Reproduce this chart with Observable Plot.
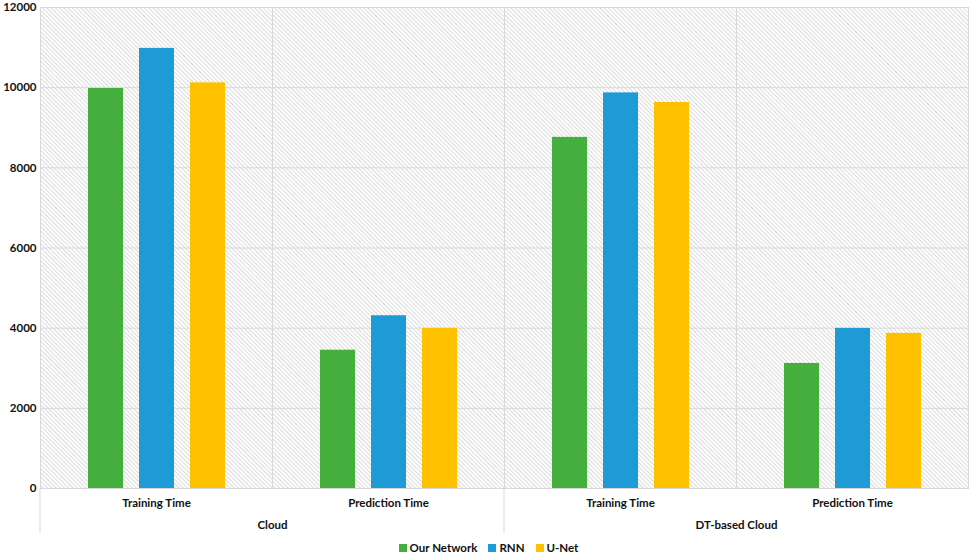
<!DOCTYPE html>
<html>
<head>
<meta charset="utf-8">
<script src="https://cdn.jsdelivr.net/npm/d3@7"></script>
<script src="https://cdn.jsdelivr.net/npm/@observablehq/plot@0.6"></script>
<style>
  html, body { margin: 0; padding: 0; background: #fff; }
  body { width: 969px; height: 554px; overflow: hidden; font-family: Lato, "Open Sans", sans-serif; }
  #legend { display: flex; justify-content: center; gap: 11px; font-size: 11.5px; font-weight: bold; color: #111; margin-left: 8px; margin-top: 4px; }
  #legend .item { display: flex; align-items: center; gap: 3px; }
  #legend .sw { width: 8px; height: 8px; display: inline-block; }
</style>
</head>
<body>
<div id="chart"></div>
<div id="legend"></div>
<script>
const groups = ["Cloud", "DT-based Cloud"];
const metrics = ["Training Time", "Prediction Time"];
const series = ["Our Network", "RNN", "U-Net"];
const colors = ["#45AF3E", "#1E9BD7", "#FFC000"];
// values per group/metric: [Our Network, RNN, U-Net]
const cloudTraining = [9980, 10980, 10120];
const cloudPrediction = [3450, 4310, 3995];
const dtTraining = [8760, 9870, 9630];
const dtPrediction = [3120, 3995, 3870];
const yTicks = [0, 2000, 4000, 6000, 8000, 10000, 12000];

const valueSets = [[cloudTraining, cloudPrediction], [dtTraining, dtPrediction]];
const data = [];
groups.forEach((g, gi) => metrics.forEach((m, mi) => series.forEach((s, si) => {
  data.push({cat: g + "|" + m, series: s, value: valueSets[gi][mi][si]});
})));
const cats = groups.flatMap(g => metrics.map(m => g + "|" + m));
const groupLabels = groups.map(g => ({cat: g + "|" + metrics[0], label: g}));

const plot = Plot.plot({
  width: 969,
  height: 537,
  marginLeft: 40,
  marginRight: 1,
  marginTop: 7,
  marginBottom: 49,
  style: {fontFamily: "Lato, 'Open Sans', sans-serif", fontSize: "11.5px", fontWeight: "bold", color: "#111", overflow: "visible"},
  fx: {domain: cats, padding: 0, label: null, tickSize: 0, tickPadding: 10, tickFormat: d => d.split("|")[1]},
  x: {domain: series, paddingInner: 0.314, paddingOuter: 0.93, axis: null},
  y: {domain: [0, 12000], ticks: yTicks, tickSize: 0, tickPadding: 4, label: null, tickFormat: d => String(d)},
  color: {domain: series, range: colors},
  marks: [
    Plot.frame({fill: "url(#hatch)"}),
    Plot.gridY(yTicks, {stroke: "#d9d9d9", strokeOpacity: 1}),
    Plot.frame({anchor: "left", stroke: "#d9d9d9", strokeOpacity: 1}),
    Plot.frame({anchor: "right", stroke: "#d9d9d9", strokeOpacity: 1}),
    Plot.barY(data, {fx: "cat", x: "series", y: "value", fill: "series"}),
    Plot.ruleY([0], {stroke: "#d9d9d9"}),
    Plot.text(groupLabels, {fx: "cat", text: "label", frameAnchor: "bottom-right", textAnchor: "middle", dy: 40, fontWeight: "bold", fontSize: 11.5})
  ]
});

// hatch pattern for the plot background
const svg = d3.select(plot);
const defs = svg.insert("defs", ":first-child");
const pat = defs.append("pattern")
  .attr("id", "hatch")
  .attr("patternUnits", "userSpaceOnUse")
  .attr("width", 3)
  .attr("height", 3)
  .attr("patternTransform", "rotate(-45)");
pat.append("rect").attr("width", 3).attr("height", 3).attr("fill", "#fff");
pat.append("line").attr("x1", 0.5).attr("y1", 0).attr("x2", 0.5).attr("y2", 3)
  .attr("stroke", "#d6d6d6").attr("stroke-width", 0.9);

// group separators below the axis, placed with Plot's fx and y scales
const fxScale = plot.scale("fx");
const yScale = plot.scale("y");
const y0 = yScale.apply(0);
groups.forEach(g => {
  const xpos = fxScale.apply(g + "|" + metrics[0]);
  svg.append("line")
    .attr("x1", xpos).attr("x2", xpos)
    .attr("y1", y0).attr("y2", y0 + 44)
    .attr("stroke", "#d9d9d9");
});

document.getElementById("chart").appendChild(plot);

const lg = d3.select("#legend");
series.forEach((s, i) => {
  const it = lg.append("div").attr("class", "item");
  it.append("span").attr("class", "sw").style("background", colors[i]);
  it.append("span").text(s);
});
</script>
</body>
</html>
